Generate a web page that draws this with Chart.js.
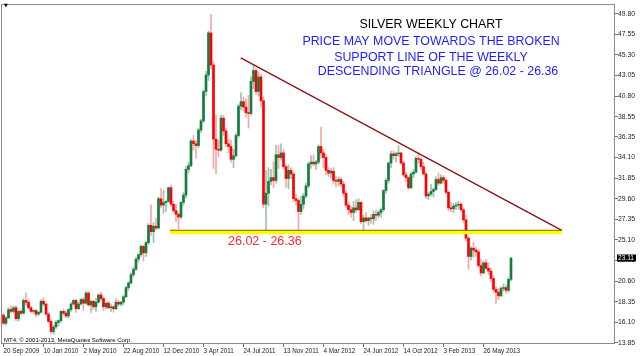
<!DOCTYPE html>
<html><head><meta charset="utf-8">
<script src="https://cdn.jsdelivr.net/npm/chart.js@4.4.1/dist/chart.umd.min.js"></script>
<style>html,body{margin:0;padding:0;background:#fff;}canvas{display:block;}</style>
</head><body>
<canvas id="c" width="640" height="356"></canvas>
<script>
// ---- data (weekly XAGUSD, one row per week: open, high, low, close) ----
const firstWeek = '20 Sep 2009';
const xTickLabels = ['20 Sep 2009','10 Jan 2010','2 May 2010','22 Aug 2010','12 Dec 2010','3 Apr 2011','24 Jul 2011','13 Nov 2011','4 Mar 2012','24 Jun 2012','14 Oct 2012','3 Feb 2013','26 May 2013'];
const xTickStep = 16;
const yTickLabels = ['13.85','16.10','18.35','20.60','22.85','25.10','27.35','29.60','31.85','34.10','36.35','38.55','40.80','43.05','45.30','47.55','49.80'];

const candles2009 = [
[16.9,17.1,15.8,16.0],[16.0,16.7,15.8,16.6],[16.6,17.7,16.5,17.5],[17.5,17.9,17.1,17.3],[17.3,17.9,17.1,17.7],
[17.7,17.9,16.3,16.5],[16.5,17.4,16.2,17.3],[17.3,17.5,16.9,17.1],[17.1,18.7,17.0,18.5],[18.5,19.3,18.0,18.3],
[18.3,18.6,17.5,17.7],[17.7,17.9,17.2,17.3],[17.3,17.5,17.1,17.4],[17.4,17.5,16.7,17.0],[17.0,17.3,16.8,17.2]];
const candles2010 = [
[17.2,18.6,17.1,18.4],[18.4,18.8,17.9,18.1],[18.1,18.2,16.9,17.0],[17.0,17.2,16.0,16.2],[16.2,16.4,14.9,15.1],
[15.1,15.8,14.8,15.6],[15.6,16.3,15.4,16.1],[16.1,16.4,15.7,16.3],[16.3,17.4,16.1,17.3],[17.3,17.5,16.9,17.1],
[17.1,17.4,16.6,16.8],[16.8,17.6,16.6,17.5],[17.5,18.3,17.3,18.1],[18.1,18.6,18.0,18.5],[18.5,18.6,17.2,17.6],
[17.6,18.3,17.5,18.1],[18.1,18.7,18.0,18.6],[18.6,18.8,17.4,18.2],[18.2,19.5,18.1,19.3],[19.3,19.5,17.9,18.0],
[18.0,18.5,17.2,18.4],[18.4,18.5,17.5,17.8],[17.8,18.7,17.3,18.3],[18.3,19.2,18.2,19.1],[19.1,19.4,18.5,18.7],
[18.7,18.9,17.4,17.8],[17.8,18.3,17.6,18.2],[18.2,18.4,17.6,17.7],[17.7,18.1,17.3,17.8],[17.8,18.0,17.2,17.6],
[17.6,18.7,17.5,18.3],[18.3,18.5,17.9,18.1],[18.1,18.4,17.9,18.3],[18.3,19.1,18.0,18.9],[18.9,20.0,18.8,19.9],
[19.9,20.6,19.6,20.4],[20.4,21.5,20.3,21.3],[21.3,22.1,21.1,21.9],[21.9,23.2,21.8,23.0],[23.0,23.6,22.7,23.5],
[23.5,24.6,23.3,24.4],[24.4,24.5,22.8,23.7],[23.7,25.0,23.3,24.8],[24.8,26.9,24.6,26.7],[26.7,28.9,25.6,26.0],
[26.0,27.0,24.8,26.6],[26.6,27.5,26.2,26.4],[26.4,29.8,26.3,29.6],[29.6,30.7,28.6,28.9],[28.9,30.5,28.0,29.2],
[29.2,29.4,28.2,29.3],[29.3,30.9,29.2,30.8]];
const candles2011 = [
[30.8,31.1,28.8,29.0],[29.0,29.3,28.1,28.3],[28.3,29.0,27.1,27.9],[27.9,28.1,26.3,27.6],[27.6,29.3,27.4,29.2],
[29.2,30.3,28.9,30.0],[30.0,33.1,29.7,32.8],[32.8,33.6,32.4,33.2],[33.2,36.1,33.1,35.9],[35.9,36.5,34.9,35.6],
[35.6,36.0,34.0,35.4],[35.4,37.3,35.2,37.1],[37.1,38.3,36.8,38.1],[38.1,41.5,37.9,41.3],[41.3,43.5,40.8,43.1],
[43.1,47.9,42.5,47.7],[47.7,49.7,43.8,44.2],[44.2,44.6,32.9,36.1],[36.1,38.7,32.3,35.0],[35.0,36.0,34.2,34.9],
[34.9,38.7,34.8,38.4],[38.4,38.7,36.5,37.0],[37.0,37.3,35.3,35.6],[35.6,36.1,34.6,35.3],[35.3,36.0,33.6,33.9],
[33.9,35.0,33.0,34.3],[34.3,36.7,34.1,36.5],[36.5,39.9,36.3,39.7],[39.7,41.2,39.3,40.2],[40.2,40.7,39.2,39.6],
[39.6,40.5,38.5,39.0],[39.0,40.9,37.3,38.9],[38.9,42.9,38.7,42.4],[42.4,44.2,41.6,43.6],[43.6,43.8,41.0,41.3],
[41.3,43.4,40.8,42.9],[42.9,43.2,39.6,40.3],[40.3,40.7,28.6,29.0],[29.0,32.7,26.1,30.2],[30.2,33.0,28.8,31.5],
[31.5,32.8,31.1,31.9],[31.9,33.6,30.8,31.6],[31.6,35.4,31.3,34.4],[34.4,35.4,32.9,34.1],[34.1,35.6,33.8,34.6],
[34.6,35.0,32.9,33.1],[33.1,33.3,30.8,31.8],[31.8,33.3,30.7,32.7],[32.7,33.0,31.8,32.3],[32.3,32.5,29.3,29.6],
[29.6,30.1,28.9,29.4],[29.4,29.6,26.15,28.2]];
const candles2012 = [
[28.2,29.9,27.9,29.0],[29.0,30.2,28.5,29.9],[29.9,31.3,29.7,31.0],[31.0,33.6,30.8,33.4],[33.4,34.3,32.9,33.6],
[33.6,34.4,33.2,33.4],[33.4,33.8,32.8,33.6],[33.6,35.5,33.4,35.3],[35.3,37.4,34.0,34.6],[34.6,35.0,33.0,34.1],
[34.1,34.4,32.2,32.7],[32.7,33.0,32.0,32.4],[32.4,32.9,31.9,32.6],[32.6,33.0,31.2,31.6],[31.6,32.0,30.9,31.5],
[31.5,32.0,31.0,31.7],[31.7,31.9,30.9,31.2],[31.2,31.5,29.9,30.2],[30.2,30.4,28.6,28.9],[28.9,29.2,27.9,28.4],
[28.4,28.8,27.6,28.1],[28.1,29.3,27.2,28.6],[28.6,29.5,28.1,28.4],[28.4,29.6,28.3,29.2],[29.2,29.3,26.9,27.1],
[27.1,27.8,26.1,27.5],[27.5,28.1,27.0,27.2],[27.2,27.6,26.7,27.5],[27.5,27.9,26.9,27.4],[27.4,28.3,26.8,27.9],
[27.9,28.4,27.2,27.8],[27.8,28.3,27.5,28.1],[28.1,28.6,27.6,28.4],[28.4,30.6,28.2,30.5],[30.5,31.8,30.2,31.6],
[31.6,33.6,31.3,33.5],[33.5,34.8,33.0,34.5],[34.5,34.8,33.9,34.3],[34.3,34.7,33.6,34.5],[34.5,35.4,34.2,34.6],
[34.6,34.7,33.3,33.5],[33.5,33.7,32.0,32.2],[32.2,32.5,31.5,31.9],[31.9,32.0,30.6,30.8],[30.8,32.5,30.7,32.3],
[32.3,32.8,31.9,32.5],[32.5,34.2,32.4,34.0],[34.0,34.6,33.5,33.9],[33.9,34.1,32.8,33.1],[33.1,33.6,32.2,32.3],
[32.3,32.5,29.6,29.9],[29.9,30.3,29.5,30.1]];
const candles2013 = [
[30.1,31.2,29.9,30.4],[30.4,30.8,29.8,30.6],[30.6,32.0,30.5,31.7],[31.7,32.4,31.1,31.3],[31.3,32.2,31.2,31.9],
[31.9,32.1,31.3,31.6],[31.6,31.8,30.1,30.3],[30.3,30.5,28.3,28.6],[28.6,29.2,28.2,28.5],[28.5,29.1,28.1,28.8],
[28.8,29.2,28.4,28.9],[28.9,29.3,28.5,29.0],[29.0,29.2,28.2,28.4],[28.4,28.6,27.0,27.3],[27.3,27.8,25.0,25.3],
[25.3,25.4,21.9,23.3],[23.3,24.4,22.9,24.2],[24.2,24.8,23.2,24.0],[24.0,24.3,23.3,23.8],[23.8,24.0,22.1,22.3],
[22.3,23.0,21.2,21.5],[21.5,22.8,21.4,22.6],[22.6,23.0,21.9,22.0],[22.0,22.6,21.3,21.7],[21.7,22.0,20.6,20.9],
[20.9,21.2,19.4,19.7],[19.7,20.0,18.2,19.4],[19.4,19.8,18.6,19.0],[19.0,20.0,18.9,19.8],[19.8,20.3,19.5,19.9],
[19.9,20.2,19.3,19.6],[19.6,21.0,19.4,20.8],[20.8,23.2,20.6,23.11]];
const candles = [].concat(candles2009, candles2010, candles2011, candles2012, candles2013);

const lastPrice = 23.11;
const supportEdge = 26.16;       // dark top edge of the support band
const supportFill = 25.92;       // yellow band centre
const supportSpan = [66.6, 223.3];  // week indices where the band starts / ends
const trendLine = [[94.9, 44.97], [223.3, 26.15]]; // [week index, price]

// ---- styles ----
const BULL = '#137c3e', BEAR = '#ff0000';
const BULL_WICK = '#9ec3a8', BEAR_WICK = '#f6a6a6';
const FONT = '"Liberation Sans", Arial, sans-serif';

const isBull = i => candles[i][3] >= candles[i][0];

const framePlugin = {
  id: 'frame',
  afterDraw(chart) {
    const {ctx, chartArea: a} = chart;
    ctx.save();
    ctx.strokeStyle = '#8a8a8a';
    ctx.lineWidth = 1;
    ctx.strokeRect(a.left + 0.5, a.top + 0.5, a.right - a.left - 1, a.bottom - a.top - 1);
    ctx.restore();
  }
};

const textPlugin = {
  id: 'texts',
  afterDraw(chart) {
    const ctx = chart.ctx;
    const y = chart.scales.y;
    ctx.save();
    ctx.textBaseline = 'middle';
    ctx.textAlign = 'center';
    ctx.font = '12.4px ' + FONT;
    ctx.fillStyle = '#000';
    ctx.fillText('SILVER WEEKLY CHART', 431, 25);
    ctx.fillStyle = '#1e1eff';
    ctx.fillText('PRICE MAY MOVE TOWARDS THE BROKEN', 431, 42);
    ctx.fillText('SUPPORT LINE OF THE WEEKLY', 431, 57.5);
    ctx.fillText('DESCENDING TRIANGLE @ 26.02 - 26.36', 438, 71.7);
    ctx.textAlign = 'left';
    ctx.fillStyle = '#ff2a2a';
    ctx.font = '12.5px ' + FONT;
    ctx.fillText('26.02 - 26.36', 228, 241.5);
    ctx.fillStyle = '#000';
    ctx.font = '6px ' + FONT;
    ctx.fillText('MT4, \u00a9 2001-2013, MetaQuotes Software Corp.', 4, 340);
    ctx.font = '5px "DejaVu Sans"';
    ctx.fillText('\u25BC', 4, 6);
    // current price tag
    const py = y.getPixelForValue(lastPrice);
    ctx.fillStyle = '#000';
    ctx.fillRect(617, Math.round(py) - 3.5, 19, 7);
    ctx.fillStyle = '#fff';
    ctx.font = '6.6px ' + FONT;
    ctx.fillText(lastPrice.toFixed(2), 618, py);
    ctx.restore();
  }
};

new Chart(document.getElementById('c'), {
  type: 'bar',
  data: {
    datasets: [
      { type: 'line', data: trendLine.map(p => ({x: p[0], y: p[1]})),
        borderColor: '#8b1212', borderWidth: 1.3, pointRadius: 0, order: 1 },
      { type: 'line', data: supportSpan.map(x => ({x, y: supportFill})),
        borderColor: '#ffff00', borderWidth: 3.8, pointRadius: 0, order: 1 },
      { type: 'line', data: supportSpan.map(x => ({x, y: supportEdge})),
        borderColor: '#7d5c00', borderWidth: 1.2, pointRadius: 0, order: 0 },
      { data: candles.map((c, i) => ({x: i, y: [c[0], c[3]]})),
        backgroundColor: ctx => isBull(ctx.dataIndex) ? BULL : BEAR,
        barThickness: 2, borderWidth: 0, order: 2 },
      { data: candles.map((c, i) => ({x: i, y: [c[2], c[1]]})),
        backgroundColor: ctx => isBull(ctx.dataIndex) ? BULL_WICK : BEAR_WICK,
        barThickness: 1, borderWidth: 0, order: 3 }
    ]
  },
  options: {
    responsive: false,
    animation: false,
    devicePixelRatio: 1,
    layout: { padding: { left: 1, top: 1, right: 0, bottom: 0 } },
    datasets: { bar: { grouped: false } },
    plugins: { legend: { display: false }, tooltip: { enabled: false } },
    scales: {
      x: {
        type: 'linear', min: -1, max: 244.6, offset: false,
        grid: { drawOnChartArea: false, tickLength: 3, color: '#777', offset: false },
        border: { display: false },
        ticks: { font: { family: FONT, size: 6.3 }, color: '#222', padding: 0, maxRotation: 0,
                 autoSkip: false, align: 'start', callback: (v, i) => xTickLabels[i] },
        afterBuildTicks: s => { s.ticks = xTickLabels.map((_, k) => ({ value: k * xTickStep })); },
        afterFit: s => { s.height = 12; }
      },
      y: {
        position: 'right', min: 13.74, max: 50.85,
        grid: { drawOnChartArea: false, tickLength: 3, color: '#777' },
        border: { display: false },
        ticks: { font: { family: FONT, size: 6.8 }, color: '#222', padding: 0, autoSkip: false,
                 callback: (v, i) => yTickLabels[i] },
        afterBuildTicks: s => { s.ticks = yTickLabels.map(t => ({ value: parseFloat(t) })); },
        afterFit: s => { s.width = 25; }
      }
    }
  },
  plugins: [framePlugin, textPlugin]
});
</script>
</body></html>
